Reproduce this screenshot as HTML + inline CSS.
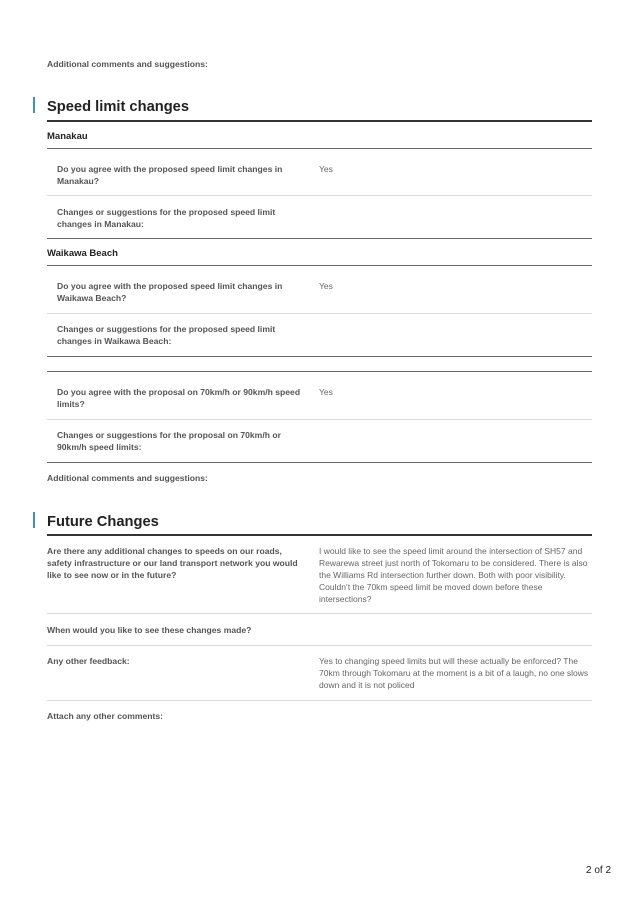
<!DOCTYPE html>
<html><head><meta charset="utf-8"><style>
body{margin:0;width:638px;height:903px;background:#fff;position:relative;font-family:"Liberation Sans",Arial,sans-serif;overflow:hidden}
.t{position:absolute;font-size:8.6px;line-height:12px;color:#555;font-weight:bold}
.a{position:absolute;font-size:8.5px;line-height:12px;color:#666}
.s{position:absolute;font-size:9.5px;line-height:12px;color:#222;font-weight:bold}
.h{position:absolute;left:47px;font-size:14.7px;font-weight:bold;color:#222;line-height:20px}
.bar{position:absolute;left:33px;width:2px;height:16px;background:#3a8fd0}
.L{position:absolute;left:47px;width:545px}
.k{height:2px;background:#333}
.d{height:1px;background:#666}
.l{height:1px;background:#ddd}
</style></head><body>
<div class="t" style="left:47px;top:58px">Additional comments and suggestions:</div>
<div class="bar" style="top:97px"></div>
<div class="h" style="top:97px">Speed limit changes</div>
<div class="L k" style="top:120px"></div>
<div class="s" style="left:47px;top:131px">Manakau</div>
<div class="L d" style="top:148px"></div>
<div class="t" style="left:57px;top:163px">Do you agree with the proposed speed limit changes in<br>Manakau?</div>
<div class="a" style="left:319px;top:163px">Yes</div>
<div class="L l" style="top:195px"></div>
<div class="t" style="left:57px;top:206px">Changes or suggestions for the proposed speed limit<br>changes in Manakau:</div>
<div class="L d" style="top:238px"></div>
<div class="s" style="left:47px;top:248px">Waikawa Beach</div>
<div class="L d" style="top:265px"></div>
<div class="t" style="left:57px;top:280px">Do you agree with the proposed speed limit changes in<br>Waikawa Beach?</div>
<div class="a" style="left:319px;top:280px">Yes</div>
<div class="L l" style="top:313px"></div>
<div class="t" style="left:57px;top:323px">Changes or suggestions for the proposed speed limit<br>changes in Waikawa Beach:</div>
<div class="L d" style="top:356px"></div>
<div class="L d" style="top:371px"></div>
<div class="t" style="left:57px;top:386px">Do you agree with the proposal on 70km/h or 90km/h speed<br>limits?</div>
<div class="a" style="left:319px;top:386px">Yes</div>
<div class="L l" style="top:419px"></div>
<div class="t" style="left:57px;top:429px">Changes or suggestions for the proposal on 70km/h or<br>90km/h speed limits:</div>
<div class="L d" style="top:462px"></div>
<div class="t" style="left:47px;top:472px">Additional comments and suggestions:</div>
<div class="bar" style="top:512px"></div>
<div class="h" style="top:512px">Future Changes</div>
<div class="L k" style="top:534px"></div>
<div class="t" style="left:47px;top:545px">Are there any additional changes to speeds on our roads,<br>safety infrastructure or our land transport network you would<br>like to see now or in the future?</div>
<div class="a" style="left:319px;top:545px">I would like to see the speed limit around the intersection of SH57 and<br>Rewarewa street just north of Tokomaru to be considered. There is also<br>the Williams Rd intersection further down. Both with poor visibility.<br>Couldn’t the 70km speed limit be moved down before these<br>intersections?</div>
<div class="L l" style="top:613px"></div>
<div class="t" style="left:47px;top:624px">When would you like to see these changes made?</div>
<div class="L l" style="top:645px"></div>
<div class="t" style="left:47px;top:655px">Any other feedback:</div>
<div class="a" style="left:319px;top:655px">Yes to changing speed limits but will these actually be enforced? The<br>70km through Tokomaru at the moment is a bit of a laugh, no one slows<br>down and it is not policed</div>
<div class="L l" style="top:700px"></div>
<div class="t" style="left:47px;top:710px">Attach any other comments:</div>
<div style="position:absolute;left:586px;top:865px;font-size:10px;line-height:12px;color:#222">2 of 2</div>
</body></html>
